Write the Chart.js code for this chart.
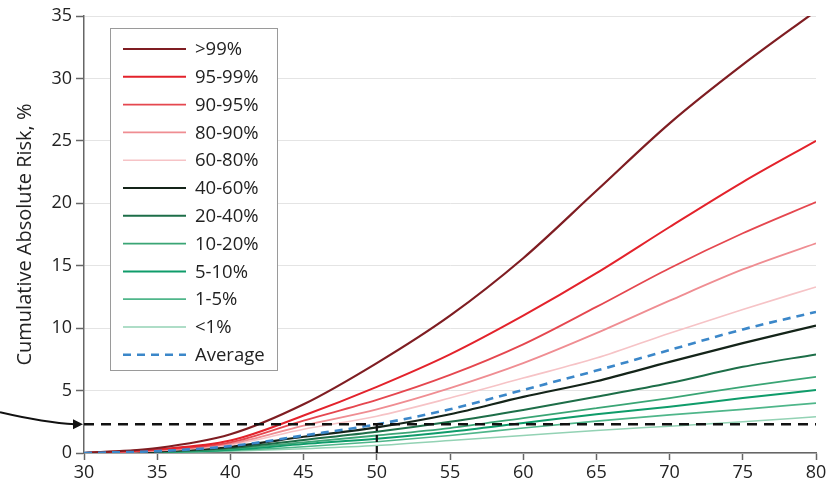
<!DOCTYPE html>
<html>
<head>
<meta charset="utf-8">
<title>Cumulative absolute risk by age</title>
<script src="https://cdn.jsdelivr.net/npm/chart.js@4.4.1/dist/chart.umd.min.js"></script>
<style>
  html, body { margin: 0; padding: 0; background: #fff; }
  #wrap { width: 831px; height: 485px; position: relative; }
</style>
</head>
<body>
<div id="wrap"><canvas id="risk-chart"></canvas></div>
<script>
// ages on the x axis
const ages = [30, 35, 40, 45, 50, 55, 60, 65, 70, 75, 80];

// cumulative absolute risk (%) per percentile group
const riskAbove99 = [0, 0.4, 1.5, 3.9, 7.2, 11.0, 15.6, 21.0, 26.4, 31.1, 35.4];
const risk95to99 = [0, 0.3, 1.0, 3.0, 5.3, 7.9, 11.0, 14.4, 18.1, 21.7, 25.0];
const risk90to95 = [0, 0.25, 0.85, 2.6, 4.25, 6.25, 8.7, 11.7, 14.8, 17.6, 20.1];
const risk80to90 = [0, 0.2, 0.75, 2.2, 3.5, 5.2, 7.2, 9.6, 12.2, 14.7, 16.8];
const risk60to80 = [0, 0.18, 0.65, 1.9, 2.95, 4.4, 6.0, 7.6, 9.6, 11.5, 13.3];
const risk40to60 = [0, 0.13, 0.5, 1.3, 2.05, 3.1, 4.5, 5.75, 7.3, 8.8, 10.2];
const risk20to40 = [0, 0.1, 0.4, 1.05, 1.7, 2.5, 3.45, 4.5, 5.6, 6.9, 7.9];
const risk10to20 = [0, 0.08, 0.33, 0.85, 1.4, 2.0, 2.8, 3.6, 4.4, 5.3, 6.1];
const risk5to10 = [0, 0.07, 0.27, 0.72, 1.15, 1.7, 2.4, 3.1, 3.7, 4.4, 5.05];
const risk1to5 = [0, 0.05, 0.2, 0.5, 0.9, 1.4, 2.0, 2.55, 3.05, 3.5, 4.0];
const riskBelow1 = [0, 0.04, 0.15, 0.35, 0.6, 1.0, 1.4, 1.8, 2.15, 2.5, 2.9];
const riskAverage = [0, 0.15, 0.55, 1.4, 2.3, 3.5, 5.05, 6.6, 8.25, 9.9, 11.3];

// reference marker: average risk reached at age 50
const refAge = 50;
const refRisk = 2.3;

const xTicks = [30, 35, 40, 45, 50, 55, 60, 65, 70, 75, 80];
const yTicks = [0, 5, 10, 15, 20, 25, 30, 35];

const groups = [
  { label: ">99%", data: riskAbove99, color: "#7f1d22", width: 2.2 },
  { label: "95-99%", data: risk95to99, color: "#e3222b", width: 2 },
  { label: "90-95%", data: risk90to95, color: "#e5474f", width: 1.8 },
  { label: "80-90%", data: risk80to90, color: "#ef8d92", width: 1.8 },
  { label: "60-80%", data: risk60to80, color: "#f6c3c6", width: 1.6 },
  { label: "40-60%", data: risk40to60, color: "#142419", width: 2.2 },
  { label: "20-40%", data: risk20to40, color: "#1d6e48", width: 2 },
  { label: "10-20%", data: risk10to20, color: "#3aa575", width: 1.8 },
  { label: "5-10%", data: risk5to10, color: "#0f9c6a", width: 2 },
  { label: "1-5%", data: risk1to5, color: "#4fb68a", width: 1.7 },
  { label: "<1%", data: riskBelow1, color: "#93d2b4", width: 1.5 },
];
const average = { label: "Average", data: riskAverage, color: "#3b87c9", width: 2.6, dash: [8, 6] };

const FONT = "'Open Sans', 'DejaVu Sans', sans-serif";

const toPoints = (values) => values.map((y, i) => ({ x: ages[i], y }));

const datasets = [
  {
    label: "ref-h",
    data: [{ x: ages[0], y: refRisk }, { x: ages[ages.length - 1], y: refRisk }],
    borderColor: "#111",
    borderWidth: 2.4,
    borderDash: [10, 7],
    pointRadius: 0,
  },
  {
    label: "ref-v",
    data: [{ x: refAge, y: 0 }, { x: refAge, y: refRisk }],
    borderColor: "#111",
    borderWidth: 2.2,
    borderDash: [7, 4],
    pointRadius: 0,
  },
  {
    label: average.label,
    data: toPoints(average.data),
    borderColor: average.color,
    borderWidth: average.width,
    borderDash: average.dash,
    pointRadius: 0,
    cubicInterpolationMode: "monotone",
  },
  ...groups.map((g) => ({
    label: g.label,
    data: toPoints(g.data),
    borderColor: g.color,
    borderWidth: g.width,
    pointRadius: 0,
    cubicInterpolationMode: "monotone",
  })),
];

// legend box inside the plot, plus the arrow pointing at the reference line
const overlayPlugin = {
  id: "overlay",
  afterDraw(chart) {
    const { ctx, chartArea, scales } = chart;
    ctx.save();

    // legend
    const items = [...groups, average];
    const boxX = chartArea.left + 26;
    const boxY = chartArea.top + 12;
    const rowH = 27.8;
    const boxW = 167;
    const boxH = 342;
    ctx.fillStyle = "#fff";
    ctx.fillRect(boxX, boxY, boxW, boxH);
    ctx.strokeStyle = "#9a9a9a";
    ctx.lineWidth = 1;
    ctx.strokeRect(boxX + 0.5, boxY + 0.5, boxW, boxH);
    ctx.font = `18.5px ${FONT}`;
    ctx.textBaseline = "middle";
    items.forEach((item, i) => {
      const y = boxY + 21 + i * rowH;
      ctx.beginPath();
      ctx.strokeStyle = item.color;
      ctx.lineWidth = item.width;
      ctx.setLineDash(item.dash || []);
      ctx.moveTo(boxX + 13, y);
      ctx.lineTo(boxX + 76, y);
      ctx.stroke();
      ctx.setLineDash([]);
      ctx.fillStyle = "#222";
      ctx.fillText(item.label, boxX + 85, y + 1);
    });

    // arrow from the left margin to the reference line
    const yRef = scales.y.getPixelForValue(refRisk);
    const tipX = chartArea.left - 1;
    ctx.strokeStyle = "#111";
    ctx.fillStyle = "#111";
    ctx.lineWidth = 2;
    ctx.beginPath();
    ctx.moveTo(0, yRef - 12);
    ctx.bezierCurveTo(30, yRef - 5, 55, yRef - 1, tipX - 8, yRef);
    ctx.stroke();
    ctx.beginPath();
    ctx.moveTo(tipX, yRef);
    ctx.lineTo(tipX - 10, yRef - 5);
    ctx.lineTo(tipX - 10, yRef + 5);
    ctx.closePath();
    ctx.fill();

    ctx.restore();
  },
};

new Chart(document.getElementById("risk-chart"), {
  type: "line",
  data: { datasets },
  options: {
    responsive: true,
    maintainAspectRatio: false,
    animation: false,
    layout: { padding: { left: 0, right: 15, top: 16, bottom: 0 } },
    plugins: {
      legend: { display: false },
      tooltip: { enabled: false },
    },
    scales: {
      x: {
        type: "linear",
        min: 30,
        max: 80,
        afterBuildTicks: (scale) => {
          scale.ticks = xTicks.map((value) => ({ value }));
        },
        afterFit: (scale) => {
          scale.height = 32;
        },
        ticks: {
          color: "#222",
          padding: 2,
          font: { family: FONT, size: 18 },
        },
        grid: {
          drawOnChartArea: false,
          drawTicks: true,
          tickLength: 7,
          tickColor: "#666",
          tickWidth: 1.5,
        },
        border: { color: "#666", width: 1.5 },
      },
      y: {
        min: 0,
        max: 35,
        afterBuildTicks: (scale) => {
          scale.ticks = yTicks.map((value) => ({ value }));
        },
        afterFit: (scale) => {
          scale.width = 84;
        },
        ticks: {
          color: "#222",
          padding: 4,
          font: { family: FONT, size: 18 },
        },
        grid: {
          color: "#e4e4e4",
          lineWidth: 1,
          drawTicks: true,
          tickLength: 8,
          tickColor: "#666",
          tickWidth: 1.5,
        },
        border: { color: "#666", width: 1.5 },
        title: {
          display: true,
          text: "Cumulative Absolute Risk, %",
          color: "#222",
          font: { family: FONT, size: 20 },
          padding: { top: 13, bottom: 0 },
        },
      },
    },
  },
  plugins: [overlayPlugin],
});
</script>
</body>
</html>
